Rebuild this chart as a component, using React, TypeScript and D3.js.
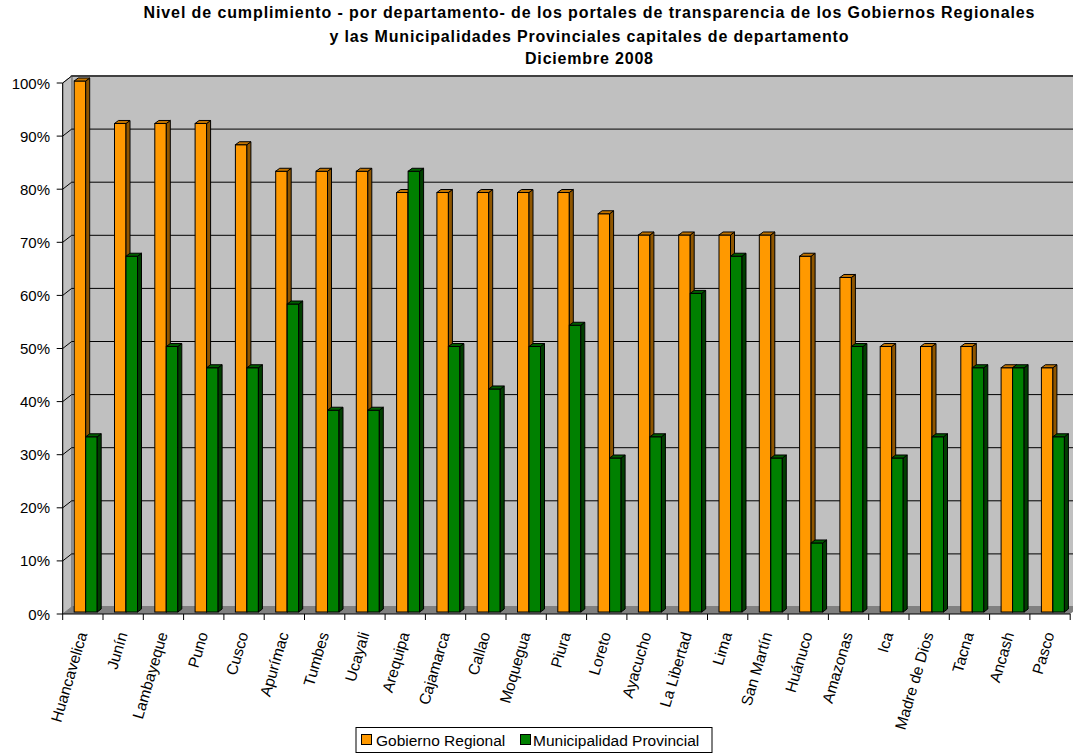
import React from "react";
import * as d3 from "d3";

const categories = ["Huancavelica","Junín","Lambayeque","Puno","Cusco","Apurímac","Tumbes","Ucayali","Arequipa","Cajamarca","Callao","Moquegua","Piura","Loreto","Ayacucho","La Libertad","Lima","San Martín","Huánuco","Amazonas","Ica","Madre de Dios","Tacna","Ancash","Pasco"];
const gobiernoRegional = [100,92,92,92,88,83,83,83,79,79,79,79,79,75,71,71,71,71,67,63,50,50,50,46,46];
const municipalidadProvincial = [33,67,50,46,46,58,38,38,83,50,42,50,54,29,33,60,67,29,13,50,29,33,46,46,33];
const yTicks = [0,10,20,30,40,50,60,70,80,90,100];
const titleLines = [
  "Nivel de cumplimiento - por departamento- de los portales de transparencia de los Gobiernos Regionales",
  "y las Municipalidades Provinciales capitales de departamento",
  "Diciembre 2008",
];
const seriesNames = ["Gobierno Regional", "Municipalidad Provincial"];

const W = 1073, H = 754;
const X0 = 62.7, X1 = 1070.2;
const DX = 9, DY = -7;   // wall depth
const BDX = 4, BDY = -3; // bar depth
const font = "'Liberation Sans', Arial, sans-serif";

const colors = [
  { front: "#FF9900", side: "#8F5600", top: "#C27400" },
  { front: "#008000", side: "#003F00", top: "#005F00" },
];

const titleLayout = [
  { y: 17.5, len: 891 },
  { y: 41.5, len: 519 },
  { y: 63.5, len: 128 },
];

export default function App() {
  const x = d3.scaleBand<string>().domain(categories).range([X0, X1]).paddingInner(0).paddingOuter(0);
  const y = d3.scaleLinear().domain([0, 100]).range([614, 83]);
  const step = x.step();
  const backRight = X1 + DX;

  const barFace = (xl: number, w: number, v: number, c: typeof colors[0], key: string) => {
    const yb = y(0) - 2;
    const yt = y(v) - 2;
    return (
      <g key={key}>
        <rect x={xl} y={yt} width={w} height={yb - yt} fill={c.front} stroke="#000" strokeWidth={1} />
        <polygon points={`${xl + w},${yt} ${xl + w + BDX},${yt + BDY} ${xl + w + BDX},${yb + BDY} ${xl + w},${yb}`} fill={c.side} stroke="#000" strokeWidth={1} />
        <polygon points={`${xl},${yt} ${xl + BDX},${yt + BDY} ${xl + w + BDX},${yt + BDY} ${xl + w},${yt}`} fill={c.top} stroke="#000" strokeWidth={1} />
      </g>
    );
  };

  return (
    <svg width={W} height={H} style={{ position: "absolute", left: 0, top: 0, display: "block" }}>
      <rect x={0} y={0} width={W} height={H} fill="#fff" />
      {titleLines.map((t, i) => (
        <text key={i} x={589} y={titleLayout[i].y} textAnchor="middle" fontFamily={font} fontWeight="bold" fontSize={16}
          textLength={titleLayout[i].len} lengthAdjust="spacing" fill="#000">{t}</text>
      ))}
      {/* back wall */}
      <rect x={X0 + DX} y={y(100) + DY} width={backRight - X0 - DX} height={y(0) - y(100)} fill="#C0C0C0" stroke="#808080" strokeWidth={2} />
      {/* left wall */}
      <polygon points={`${X0},${y(0)} ${X0},${y(100)} ${X0 + DX},${y(100) + DY} ${X0 + DX},${y(0) + DY}`} fill="#C0C0C0" stroke="#808080" strokeWidth={1} />
      {/* floor */}
      <polygon points={`${X0},${y(0)} ${X0 + DX},${y(0) + DY} ${backRight},${y(0) + DY} ${X1},${y(0)}`} fill="#808080" />
      {/* gridlines */}
      {yTicks.filter(t => t > 0).map(t => (
        <polyline key={t} points={`${X0},${y(t)} ${X0 + DX},${y(t) + DY} ${backRight},${y(t) + DY}`} fill="none" stroke="#000" strokeWidth={1} />
      ))}
      {/* bars */}
      {categories.map((c, i) => {
        const t = x(c)!;
        return (
          <g key={c}>
            {barFace(t + 11.5, 11.5, gobiernoRegional[i], colors[0], "g")}
            {barFace(t + 23, 11.5, municipalidadProvincial[i], colors[1], "m")}
          </g>
        );
      })}
      {/* axes */}
      <line x1={X0} y1={y(100)} x2={X0} y2={y(0)} stroke="#000" strokeWidth={1} />
      <line x1={X0} y1={y(0)} x2={X1} y2={y(0)} stroke="#000" strokeWidth={1} />
      {yTicks.map(t => (
        <g key={t}>
          <line x1={X0 - 6} y1={y(t)} x2={X0} y2={y(t)} stroke="#000" strokeWidth={1} />
          <text x={50} y={y(t) + 5.5} textAnchor="end" fontFamily={font} fontSize={15} fill="#000">{t}%</text>
        </g>
      ))}
      {categories.map((c) => (
        <line key={c} x1={x(c)!} y1={y(0)} x2={x(c)!} y2={y(0) + 6} stroke="#000" strokeWidth={1} />
      ))}
      <line x1={X1} y1={y(0)} x2={X1} y2={y(0) + 6} stroke="#000" strokeWidth={1} />
      {categories.map(c => {
        const cx = x(c)! + step / 2 + 4.5;
        const cy = 634;
        return (
          <text key={c} x={cx} y={cy} transform={`rotate(-73.5 ${cx} ${cy})`} textAnchor="end" fontFamily={font} fontSize={15.5} fill="#000">{c}</text>
        );
      })}
      {/* legend */}
      <rect x={356} y={727.5} width={356} height={25} fill="#fff" stroke="#000" strokeWidth={1} />
      <rect x={361.5} y={734.5} width={10} height={10} fill={colors[0].front} stroke="#000" strokeWidth={1} />
      <text x={376} y={745.5} fontFamily={font} fontSize={15.5} fill="#000">{seriesNames[0]}</text>
      <rect x={520.5} y={734.5} width={10} height={10} fill={colors[1].front} stroke="#000" strokeWidth={1} />
      <text x={533} y={745.5} fontFamily={font} fontSize={15.5} fill="#000">{seriesNames[1]}</text>
    </svg>
  );
}
